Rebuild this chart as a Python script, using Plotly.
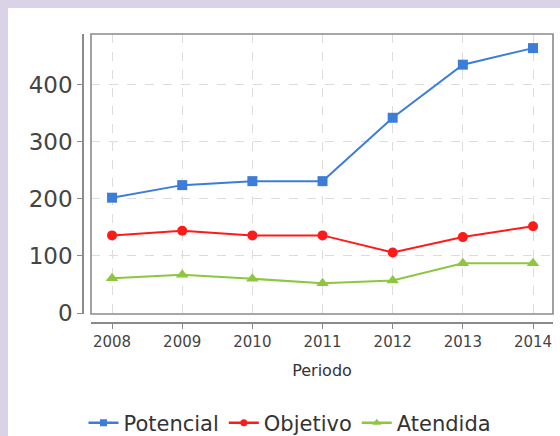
import plotly.graph_objects as go

years = [2008, 2009, 2010, 2011, 2012, 2013, 2014]
potencial = [202, 224, 231, 231, 342, 435, 464]
objetivo = [136, 144, 136, 136, 106, 133, 152]
atendida = [61, 67, 60, 52, 57, 87, 87]
y_ticks = [0, 100, 200, 300, 400]

# page has an 8px lavender margin on top/left; the figure fills the rest
OFF = 8
W, H = 560 - OFF, 436 - OFF
L, R, T, B = 75, 7, 26, 113
pw, ph = W - L - R, H - T - B

def px(x):
    return (x - L) / pw

def py(y):
    return (H - B - y) / ph

fig = go.Figure()
series = [
    ("Potencial", potencial, "#3b7dd8", "square", 10, 7),
    ("Objetivo", objetivo, "#ff1a1a", "circle", 10, 7),
    ("Atendida", atendida, "#8dc63f", "triangle-up", 11, 8),
]
for name, vals, col, sym, sz, lsz in series:
    fig.add_trace(go.Scatter(
        x=years, y=vals, name=name, mode="lines+markers",
        line=dict(color=col, width=2),
        marker=dict(symbol=sym, size=sz, color=col),
        showlegend=False,
    ))
for name, vals, col, sym, sz, lsz in series:
    fig.add_trace(go.Scatter(
        x=[None], y=[None], name=name, mode="lines+markers",
        line=dict(color=col, width=2.5),
        marker=dict(symbol=sym, size=lsz, color=col),
        showlegend=True, hoverinfo="skip",
    ))

shapes = [
    dict(type="rect", xref="x domain", yref="y domain", x0=0, x1=1, y0=0, y1=1,
         line=dict(color="#8a8a8a", width=1.6), layer="above"),
]

lav = "#dad2e6"

fig.update_layout(
    width=W, height=H,
    margin=dict(l=L, r=R, t=T, b=B, autoexpand=False),
    paper_bgcolor="white", plot_bgcolor="white",
    shapes=shapes,
    showlegend=True,
    legend=dict(orientation="h", x=px(282), xanchor="center", y=py(415), yanchor="middle",
                font=dict(family="DejaVu Sans", size=21, color="#333"),
                itemwidth=30, tracegroupgap=0, bgcolor="rgba(0,0,0,0)"),
    xaxis=dict(
        domain=[8 / pw, 1], range=[2007.70, 2014.285],
        tickmode="array", tickvals=years, ticktext=[str(y) for y in years],
        showgrid=True, gridcolor="#dcdcdc", griddash="dash", gridwidth=1,
        zeroline=False,
        showline=True, linecolor="#8a8a8a", linewidth=1.6,
        anchor="free", position=0,
        ticks="outside", ticklen=5, tickcolor="#8a8a8a",
        tickfont=dict(family="DejaVu Sans", size=15, color="#444"),
        title=dict(text="Periodo", font=dict(family="DejaVu Sans", size=16, color="#333"), standoff=14),
    ),
    yaxis=dict(
        domain=[9 / ph, 1], range=[-1.7, 488.7],
        tickmode="array", tickvals=y_ticks,
        showgrid=True, gridcolor="#dcdcdc", griddash="dash", gridwidth=1,
        zeroline=False,
        showline=True, linecolor="#8a8a8a", linewidth=1.6,
        anchor="free", position=0,
        ticks="outside", ticklen=5, tickcolor="#8a8a8a",
        tickfont=dict(family="DejaVu Sans", size=23, color="#444"),
    ),
)

post = ("document.body.style.margin='%dpx 0 0 %dpx';"
        "document.body.style.background='%s';"
        "document.body.style.overflow='hidden';" % (OFF, OFF, lav))
fig.write_html("out.html", post_script=post)
